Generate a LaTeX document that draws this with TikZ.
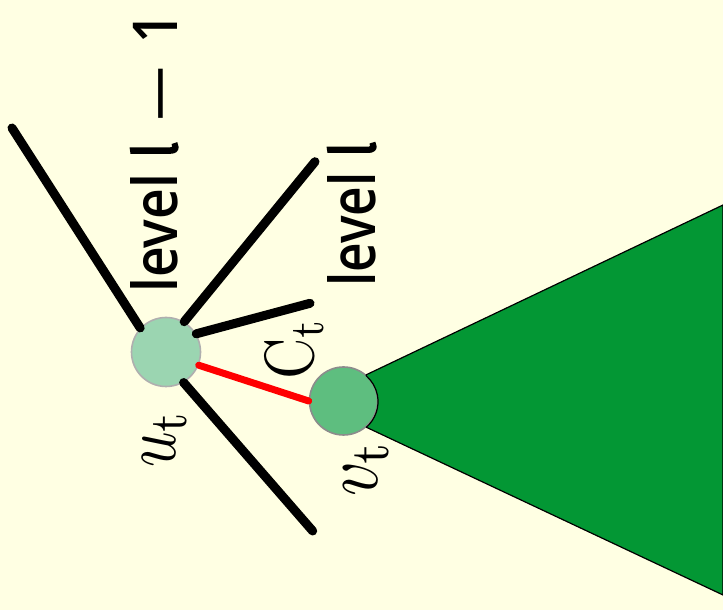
\documentclass[tikz,border=0pt]{standalone}
\usepackage{fontspec}
\usepackage{graphicx}
\IfFontExistsTF{Open Sans Semibold}
  {\newfontfamily\levfont{Open Sans Semibold}}
  {\IfFontExistsTF{Open Sans SemiBold}
    {\newfontfamily\levfont{Open Sans SemiBold}}
    {\newfontfamily\levfont{Open Sans}[UprightFeatures={FakeBold=1.5}]}}
\newfontfamily\dashfont{Open Sans}
\newfontfamily\ellfont{Fira Sans}[UprightFeatures={FakeBold=3}]
\definecolor{bg}{RGB}{255,255,227}
\definecolor{ufill}{RGB}{155,213,177}
\definecolor{vfill}{RGB}{94,190,127}
\definecolor{conegreen}{RGB}{3,151,52}
\definecolor{rimlight}{RGB}{175,175,175}
\definecolor{rimdark}{RGB}{140,140,140}
\begin{document}
\begin{tikzpicture}[x=1pt,y=1pt,
  vertex/.style={circle,line width=1.6pt,inner sep=0pt},
  edge/.style={line width=9pt,line cap=round,black},
  rededge/.style={line width=7pt,line cap=round,red},
  lbl/.style={inner sep=0pt,rotate=90,anchor=base west}]
\useasboundingbox (0,0) rectangle (723,610);
\fill[bg] (0,0) rectangle (723,610);
% nodes
\node[vertex,draw=rimlight,fill=ufill,minimum size=69pt] (u) at (166,258) {};
\node[vertex,draw=rimdark,fill=vfill,minimum size=68pt] (v) at (343.5,209) {};
% free ends
\coordinate (e1) at (12,482);
\coordinate (e2) at (315,448.3);
\coordinate (e3) at (310,306.7);
\coordinate (e4) at (312.7,79);
\coordinate (r1) at (723,405);
\coordinate (r2) at (723,15);
% cone
\filldraw[fill=conegreen,draw=black,line width=1.2pt,line join=round]
  (v.49) -- (r1) -- (r2) -- (v.-49) arc[start angle=-49,end angle=49,radius=34pt] -- cycle;
% edges
\draw[edge] (u.137) -- (e1);
\draw[edge] (u.59) -- (e2);
\draw[edge] (u.31) -- (e3);
\draw[edge] (u.-60) -- (e4);
\draw[rededge] (u.-22) -- (v.west);
% labels
\node[lbl] (l1) at (177,317) {\resizebox{280pt}{47pt}{\levfont level\hspace{0.3em}{\ellfont l}\hspace{0.4em}{\dashfont —}\hspace{0.45em}1}};
\node[lbl] (l2) at (375,323) {\resizebox{145pt}{48pt}{\levfont level\hspace{0.3em}{\ellfont l}}};
\node[lbl] (ct) at (313,230) {\resizebox*{62pt}{60pt}{$\mathrm{C}_{\mathrm{t}}$}};
\node[lbl] (ut) at (175,142) {\resizebox*{58pt}{45pt}{$u_{\mathrm{t}}$}};
\node[lbl] (vt) at (377,113) {\resizebox*{57pt}{46pt}{$v_{\mathrm{t}}$}};
\end{tikzpicture}
\end{document}
